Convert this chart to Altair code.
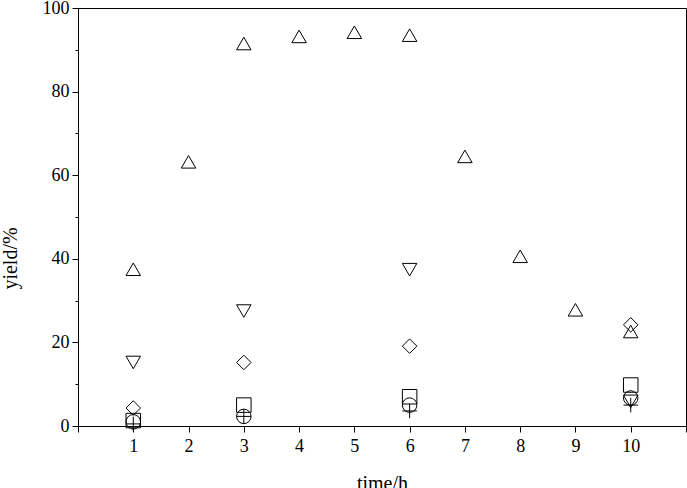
import altair as alt
import pandas as pd

# time (h) for each series
t_up = [1, 2, 3, 4, 5, 6, 7, 8, 9, 10]
y_up = [37.5, 63.2, 91.5, 93.2, 94.2, 93.5, 64.5, 40.6, 27.8, 22.6]

t_few = [1, 3, 6, 10]
y_down = [15.2, 27.5, 37.4, 5.9]
y_diamond = [4.3, 15.2, 19.1, 24.2]
y_square = [1.3, 5.0, 7.0, 9.8]
y_circle = [1.0, 2.3, 5.0, 6.7]
y_plus = [0.5, 2.3, 3.6, 5.0]

series_names = ["up", "down", "diamond", "square", "circle", "plus"]

rows = []
for t, v in zip(t_up, y_up):
    rows.append({"time": t, "yield": v, "series": "up"})
for name, vals in [("down", y_down), ("diamond", y_diamond), ("square", y_square),
                   ("circle", y_circle), ("plus", y_plus)]:
    for t, v in zip(t_few, vals):
        rows.append({"time": t, "yield": v, "series": name})
df = pd.DataFrame(rows)

font = "Liberation Serif"

x_vals = [i * 0.5 for i in range(0, 23)]
y_vals = list(range(0, 101, 10))

chart = alt.Chart(df).mark_point(filled=False, stroke="black", strokeWidth=1, opacity=1).encode(
    x=alt.X("time:Q", scale=alt.Scale(domain=[0, 11], nice=False, zero=False),
            axis=alt.Axis(title="time/h", values=x_vals, format="d",
                          labelExpr="(datum.value % 1 === 0 && datum.value >= 1 && datum.value <= 10) ? datum.label : ''",
                          tickSize={"condition": {"test": "datum.value % 1 === 0", "value": 6}, "value": 3},
                          labelPadding=5, titlePadding=18, grid=False)),
    y=alt.Y("yield:Q", scale=alt.Scale(domain=[0, 100], nice=False),
            axis=alt.Axis(title="yield/%", values=y_vals, format="d",
                          labelExpr="(datum.value % 20 === 0) ? datum.label : ''",
                          tickSize={"condition": {"test": "datum.value % 20 === 0", "value": 6}, "value": 3},
                          labelPadding=3, titleX=-58, titleY=250, grid=False)),
    shape=alt.Shape("series:N", scale=alt.Scale(
        domain=series_names,
        range=["triangle-up", "triangle-down", "diamond", "square", "circle", "M-1,0H1M0,-1V1"]),
        legend=None),
    size=alt.Size("series:N", scale=alt.Scale(
        domain=series_names, range=[210, 210, 200, 140, 160, 170]), legend=None),
).properties(
    width=608, height=418,
    padding={"left": 78, "top": 8, "right": 1, "bottom": 62},
    autosize=alt.AutoSizeParams(type="none"),
    background="white",
).configure_view(
    stroke="black", strokeWidth=1
).configure_axis(
    domainColor="black", tickColor="black", labelColor="black", titleColor="black",
    labelFont=font, titleFont=font, labelFontSize=18, titleFontSize=20,
    titleFontWeight="normal", domainWidth=1, tickWidth=1
)

chart.save("out.html", embed_options={"renderer": "svg", "actions": False})
